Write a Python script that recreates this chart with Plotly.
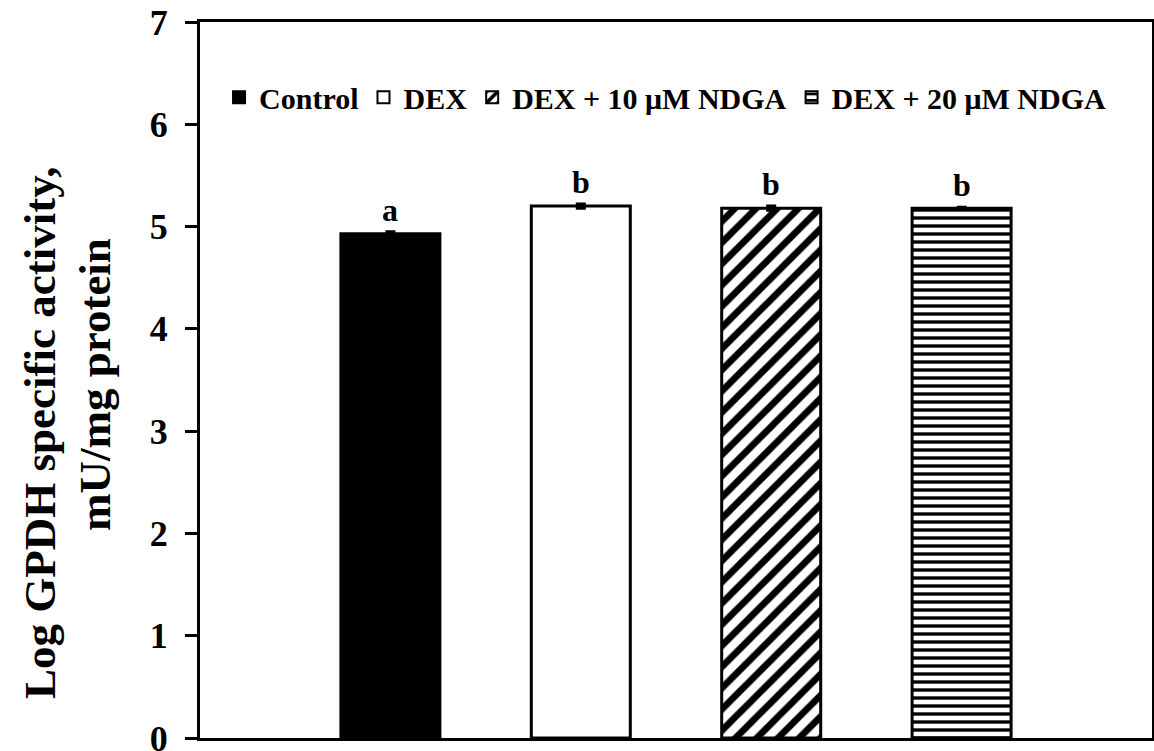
import plotly.graph_objects as go

groups = ["Control", "DEX", "DEX + 10 \u03bcM NDGA", "DEX + 20 \u03bcM NDGA"]
log_activity = [4.93, 5.20, 5.18, 5.18]
sem = [0.02, 0.02, 0.02, 0.01]
sig_letters = ["a", "b", "b", "b"]
y_ticks = [0, 1, 2, 3, 4, 5, 6, 7]
y_title_lines = ["Log GPDH specific activity,", "mU/mg protein"]

FONT = "Liberation Serif"

fills = [
    dict(color="black", pattern=None),
    dict(color="white", pattern=None),
    dict(color="white", pattern=dict(shape="/", fgcolor="black", bgcolor="white",
                                     size=15, solidity=0.45, fgopacity=1)),
    dict(color="white", pattern=dict(shape="-", fgcolor="black", bgcolor="white",
                                     size=8, solidity=0.42, fgopacity=1)),
]

fig = go.Figure()
for i, (name, val, err, f) in enumerate(zip(groups, log_activity, sem, fills)):
    marker = dict(color=f["color"], line=dict(color="black", width=3))
    if f["pattern"]:
        marker["pattern"] = f["pattern"]
    fig.add_trace(go.Bar(
        x=[i], y=[val], name=name, width=0.52,
        marker=marker,
        error_y=dict(type="data", array=[err], color="black", thickness=3, width=5),
    ))
    fig.add_annotation(
        x=i, y=val + err, text=f"<b>{sig_letters[i]}</b>", showarrow=False,
        yanchor="bottom", yshift=2, font=dict(family=FONT, size=32, color="black"),
    )

# two-line rotated y-axis title
for line, xs, yc in zip(y_title_lines, [-160, -105], [0.426, 0.493]):
    fig.add_annotation(
        xref="paper", yref="paper", x=0, y=yc, xshift=xs, text=f"<b>{line}</b>",
        textangle=-90, showarrow=False, xanchor="center", yanchor="middle",
        font=dict(family=FONT, size=45, color="black"),
    )

fig.update_layout(
    width=1154, height=751,
    margin=dict(l=200, r=2, t=22, b=13),
    plot_bgcolor="white", paper_bgcolor="white",
    showlegend=True,
    legend=dict(
        orientation="h", x=0.02, y=0.895, xanchor="left", yanchor="middle",
        font=dict(family=FONT, size=30, color="black", weight="bold"),
        bgcolor="rgba(0,0,0,0)", itemsizing="constant", traceorder="normal",
        itemwidth=30, tracegroupgap=0,
    ),
    xaxis=dict(
        range=[-1, 4], showticklabels=False, ticks="", showgrid=False, zeroline=False,
        showline=True, linecolor="black", linewidth=3, mirror=True,
    ),
    yaxis=dict(
        range=[0, 7], tickvals=y_ticks, ticks="outside", ticklen=12, tickwidth=3,
        tickcolor="black", showgrid=False, zeroline=False, automargin=False,
        showline=True, linecolor="black", linewidth=3, mirror=True,
        ticklabeloverflow="allow", ticklabelstandoff=10,
        tickfont=dict(family=FONT, size=36, color="black", weight="bold"),
    ),
)

fig.write_html("out.html")
